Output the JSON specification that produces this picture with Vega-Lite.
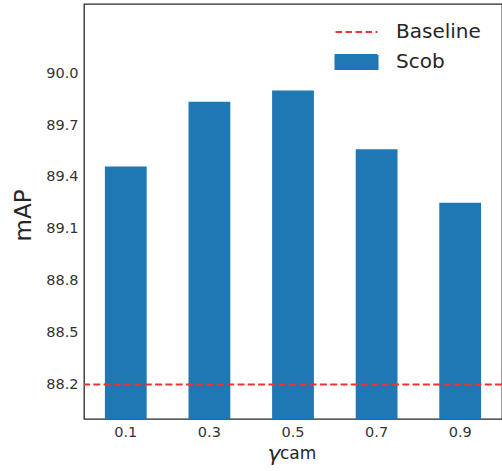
{
  "$schema": "https://vega.github.io/schema/vega-lite/v6.json",
  "width": 418,
  "height": 415,
  "autosize": {"type": "none"},
  "padding": {"left": 84, "top": 4, "right": 0, "bottom": 52},
  "background": "white",
  "config": {
    "font": "DejaVu Sans",
    "view": {"stroke": "#262626", "strokeWidth": 1.3},
    "legend": {"padding": 0}
  },
  "datasets": {
    "bars": [
      {"gamma": "0.1", "mAP": 89.46, "method": "Scob"},
      {"gamma": "0.3", "mAP": 89.835, "method": "Scob"},
      {"gamma": "0.5", "mAP": 89.9, "method": "Scob"},
      {"gamma": "0.7", "mAP": 89.56, "method": "Scob"},
      {"gamma": "0.9", "mAP": 89.25, "method": "Scob"}
    ],
    "base": [{"mAP": 88.2, "method": "Baseline"}],
    "sub": [{"t": "cam"}]
  },
  "layer": [
    {
      "data": {"name": "bars"},
      "mark": {"type": "bar", "color": "#1f77b4", "clip": true},
      "encoding": {
        "x": {
          "field": "gamma",
          "type": "nominal",
          "sort": null,
          "scale": {"paddingInner": 0.5, "paddingOuter": 0.25},
          "axis": {
            "title": "γ",
            "titleFontSize": 22,
            "titleFontStyle": "italic",
            "titleFontWeight": "normal",
            "titleColor": "#262626",
            "titleAlign": "left",
            "titleBaseline": "alphabetic",
            "titleX": 183,
            "titleY": 41,
            "labelAngle": 0,
            "labelFontSize": 14.5,
            "labelColor": "#333333",
            "labelPadding": 6,
            "ticks": false,
            "domain": false,
            "grid": false
          }
        },
        "y": {
          "field": "mAP",
          "type": "quantitative",
          "scale": {"domain": [88.0, 90.4], "nice": false, "zero": false},
          "axis": {
            "title": "mAP",
            "titleFontSize": 23,
            "titleFontWeight": "normal",
            "titleColor": "#262626",
            "titlePadding": 10,
            "titleY": 211,
            "values": [88.2, 88.5, 88.8, 89.1, 89.4, 89.7, 90.0],
            "format": ".1f",
            "labelFontSize": 14.5,
            "labelColor": "#333333",
            "labelPadding": 6,
            "ticks": false,
            "domain": false,
            "grid": false
          }
        },
        "y2": {"datum": 88.0},
        "color": {
          "field": "method",
          "type": "nominal",
          "scale": {"domain": ["Baseline", "Scob"], "range": ["#ee3333", "#1f77b4"]},
          "legend": {
            "orient": "none",
            "legendX": 261,
            "legendY": 16.5,
            "title": null,
            "labelFontSize": 20,
            "labelColor": "#262626",
            "symbolSize": 441,
            "labelOffset": 28,
            "rowPadding": 8,
            "encode": {
              "symbols": {
                "update": {
                  "shape": {"signal": "datum.value === 'Baseline' ? 'M-2,0H2' : 'M-2,-0.66H2V0.66H-2Z'"},
                  "fill": {"signal": "datum.value === 'Baseline' ? 'transparent' : '#1f77b4'"},
                  "stroke": {"signal": "datum.value === 'Baseline' ? '#ee3333' : 'transparent'"},
                  "strokeDash": {"signal": "datum.value === 'Baseline' ? [6.5, 3.5] : [1, 0]"},
                  "strokeWidth": {"value": 2},
                  "opacity": {"value": 1}
                }
              }
            }
          }
        }
      }
    },
    {
      "data": {"name": "base"},
      "mark": {"type": "rule", "strokeDash": [7, 3.3], "strokeWidth": 2},
      "encoding": {
        "y": {"field": "mAP", "type": "quantitative"},
        "color": {"field": "method", "type": "nominal"}
      }
    },
    {
      "data": {"name": "sub"},
      "mark": {"type": "text", "align": "left", "baseline": "alphabetic", "dx": -13, "dy": 40, "fontSize": 17, "color": "#262626", "clip": false},
      "encoding": {
        "text": {"field": "t"},
        "x": {"datum": "0.5"},
        "y": {"datum": 88.0}
      }
    }
  ]
}
